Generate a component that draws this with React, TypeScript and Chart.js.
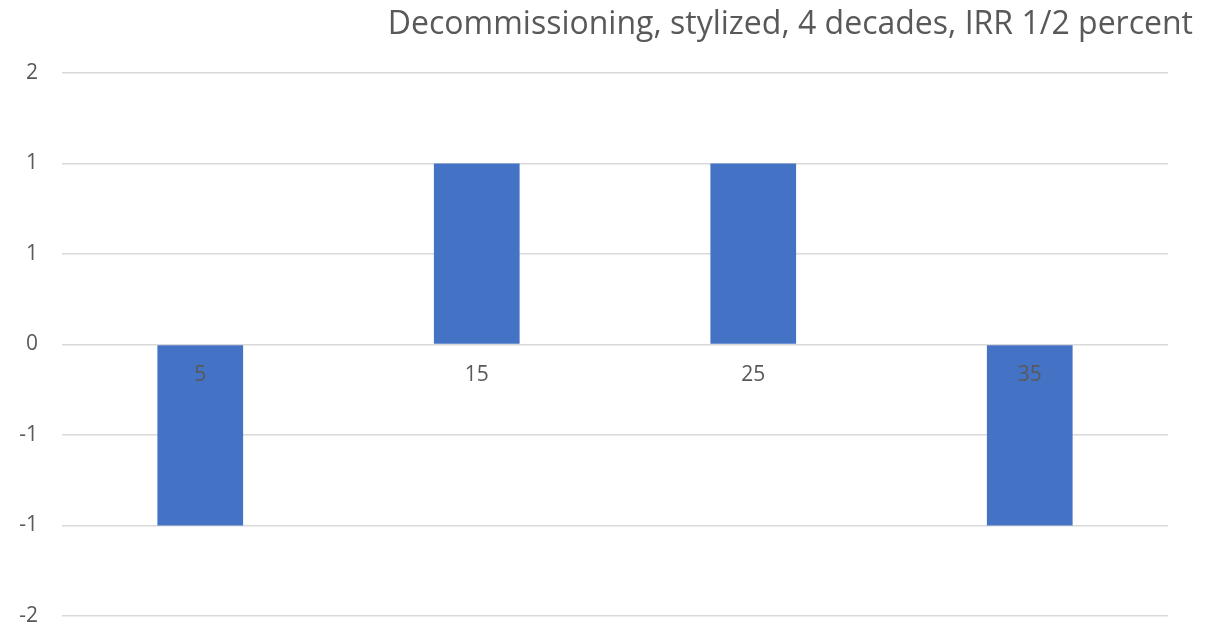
import React, { useEffect, useRef } from "react";
import { Chart, registerables } from "chart.js";

Chart.register(...registerables);

const categories = ["5", "15", "25", "35"];
const values = [-1, 1, 1, -1];
const yTicks = [-1.5, -1, -0.5, 0, 0.5, 1, 1.5];
const title = "Decommissioning, stylized, 4 decades, IRR 1/2 percent";

const FONT = "'Open Sans', 'Noto Sans', sans-serif";
const TEXT = "#595959";
const GRID = "#d9d9d9";

function excelRound(v: number): string {
  const r = Math.sign(v) * Math.round(Math.abs(v));
  return String(r === 0 ? 0 : r);
}

const titlePlugin = {
  id: "rightTitle",
  afterDraw(chart: any) {
    const c = chart.ctx;
    c.save();
    c.font = `32px ${FONT}`;
    c.fillStyle = TEXT;
    c.textAlign = "right";
    c.textBaseline = "alphabetic";
    c.fillText(title, 1193, 34);
    c.restore();
  },
};

export default function App() {
  const ref = useRef<HTMLCanvasElement | null>(null);
  useEffect(() => {
    document.body.style.margin = "0";
    const ctx = ref.current!;
    const chart = new Chart(ctx, {
      type: "bar",
      data: {
        labels: categories,
        datasets: [
          {
            data: values,
            backgroundColor: "#4472C4",
            borderWidth: 0,
            barPercentage: 0.62,
            categoryPercentage: 0.5,
          },
        ],
      },
      plugins: [titlePlugin],
      options: {
        animation: false,
        responsive: false,
        maintainAspectRatio: false,
        layout: { padding: { left: 0, right: 55, top: 73, bottom: 11 } },
        plugins: {
          legend: { display: false },
          tooltip: { enabled: false },
          title: { display: false },
        },
        scales: {
          x: {
            position: { y: 0 } as any,
            grid: { display: false, drawTicks: false },
            border: { display: false },
            afterFit: (axis: any) => {
              axis.height = 0;
              axis.paddingLeft = 0;
              axis.paddingRight = 0;
            },
            ticks: {
              z: 1,
              color: TEXT,
              font: { family: FONT, size: 21 },
              padding: 18,
              maxRotation: 0,
            },
          },
          y: {
            min: -1.5,
            max: 1.5,
            afterBuildTicks: (axis: any) => {
              axis.ticks = yTicks.map((v) => ({ value: v }));
            },
            afterFit: (axis: any) => {
              axis.width = 62;
              axis.paddingTop = 0;
              axis.paddingBottom = 0;
            },
            grid: { color: GRID, lineWidth: 1.5, drawTicks: false },
            border: { display: false },
            ticks: {
              color: TEXT,
              font: { family: FONT, size: 21 },
              padding: 24,
              callback: (v: any) => excelRound(Number(v)),
            },
          },
        },
      },
    });
    return () => chart.destroy();
  }, []);
  return (
    <div style={{ width: 1223, height: 627, background: "#fff" }}>
      <canvas ref={ref} width={1223} height={627} />
    </div>
  );
}
